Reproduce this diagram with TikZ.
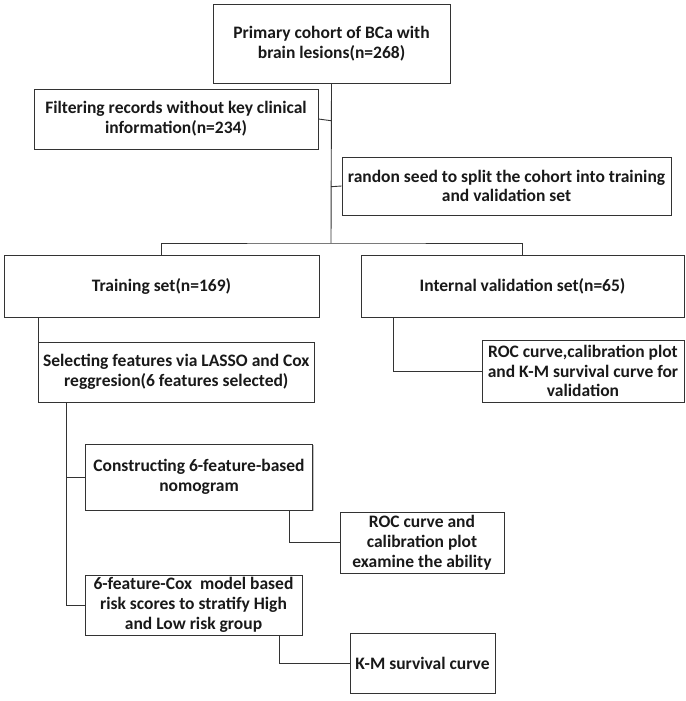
\documentclass[tikz,border=0pt]{standalone}
\usepackage{fontspec}
\setmainfont{Carlito}
\usetikzlibrary{calc,shadows}
\begin{document}
\begin{tikzpicture}[x=1pt,y=-1pt,
  box/.style={draw=black!80,line width=0.9pt,fill=white,align=center,inner sep=0pt,
    font=\fontsize{17.5}{19.8}\selectfont\bfseries,text=black!90,
    drop shadow={shadow xshift=1.2pt,shadow yshift=-1.2pt,opacity=0.25,fill=black}},
  conn/.style={draw=black!80,line width=0.9pt}]
\useasboundingbox (0,0) rectangle (685,701);
\node[box,minimum width=237pt,minimum height=79pt] (top) at (331.5,43.5) {Primary cohort of BCa with\\brain lesions(n=268)};
\node[box,minimum width=284pt,minimum height=60pt] (filt) at (176,119) {Filtering records without key clinical\\information(n=234)};
\node[box,minimum width=329pt,minimum height=58pt] (rand) at (506.5,186) {randon seed to split the cohort into training\\and validation set};
\node[box,minimum width=315pt,minimum height=62pt] (train) at (161.5,286) {Training set(n=169)};
\node[box,minimum width=323pt,minimum height=62pt] (val) at (522.5,286) {Internal validation set(n=65)};
\node[box,minimum width=275.4pt,minimum height=60pt] (sel) at (176.3,372) {Selecting features via LASSO and Cox\\reggresion(6 features selected)};
\node[box,minimum width=202pt,minimum height=62pt] (roc1) at (583,371) {ROC curve,calibration plot\\and K-M survival curve for\\validation};
\node[box,minimum width=227.5pt,minimum height=66pt] (cons) at (199,477) {Constructing 6-feature-based\\nomogram};
\node[box,minimum width=164pt,minimum height=61pt] (roc2) at (422,542.5) {ROC curve and\\calibration plot\\examine the ability};
\node[box,minimum width=217pt,minimum height=60pt] (six) at (193.5,605) {6-feature-Cox\ \ model based\\risk scores to stratify High\\and Low risk group};
\node[box,minimum width=145pt,minimum height=60pt] (km) at (422.5,663) {K-M survival curve};
\coordinate (split) at (331,243);
\coordinate (tf) at (331,120.7);
\coordinate (tr) at (331,186.7);
\draw[conn] (top.south) -- (split);
\draw[conn] (tf) -- (filt.east);
\draw[conn] (tr) -- (rand.west);
\draw[conn] (train.north) |- (split) -| (val.north);
\draw[conn] (sel.west |- train.south) -- ($(sel.north west)+(0,21)$);
\draw[conn] ($(val.south west)+(33,0)$) |- (roc1.west);
\draw[conn] ($(sel.south west)+(28.4,0)$) |- (six.west);
\draw[conn] ($(sel.south west)+(28.4,0)$) |- (cons.west);
\draw[conn] ($(cons.south east)+(-24,0)$) |- (roc2.west);
\draw[conn] ($(six.south east)+(-23,0)$) |- (km.west);
\end{tikzpicture}
\end{document}
